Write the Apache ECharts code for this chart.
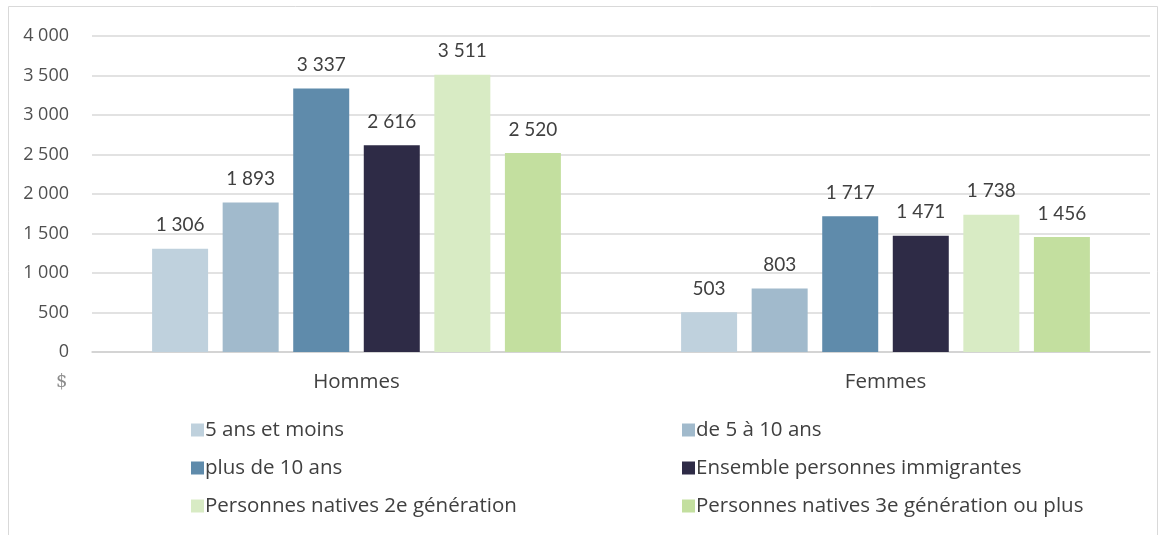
<!DOCTYPE html>
<html>
<head>
<meta charset="utf-8">
<script src="https://cdn.jsdelivr.net/npm/echarts@6/dist/echarts.min.js"></script>
<style>
  html, body { margin: 0; padding: 0; background: #fff; }
  #chart { width: 1159px; height: 535px; }
</style>
</head>
<body>
<div id="chart"></div>
<script>
// données
const categories = ['Hommes', 'Femmes'];
const seriesNames = [
  '5 ans et moins',
  'de 5 à 10 ans',
  'plus de 10 ans',
  'Ensemble personnes immigrantes',
  'Personnes natives 2e génération',
  'Personnes natives 3e génération ou plus'
];
const ans5Moins = [1306, 503];
const de5a10 = [1893, 803];
const plus10 = [3337, 1717];
const ensembleImmigrants = [2616, 1471];
const natives2e = [3511, 1738];
const natives3e = [2520, 1456];
const seriesValues = [ans5Moins, de5a10, plus10, ensembleImmigrants, natives2e, natives3e];
const colors = ['#BFD1DD', '#A1BACC', '#5F8BAB', '#2E2B46', '#D8EBC4', '#C3DF9F'];

const fmt = v => String(v).replace(/\B(?=(\d{3})+(?!\d))/g, ' ');
const font = 'Lato, "Open Sans", sans-serif';
const wide = '"Open Sans", Lato, sans-serif';

const legendText = { color: '#404040', fontSize: 20.5, lineHeight: 24, fontFamily: wide, padding: [0, 0, 0, -4] };

const chart = echarts.init(document.getElementById('chart'));
chart.setOption({
  animation: false,
  color: colors,
  textStyle: { fontFamily: font },
  grid: { left: 92, right: 9, top: 36, bottom: 183 },
  xAxis: {
    type: 'category',
    data: categories,
    axisTick: { show: false },
    axisLine: { lineStyle: { color: '#d0d0d0', width: 1.5 } },
    axisLabel: { color: '#404040', fontSize: 20.5, margin: 20, fontFamily: wide }
  },
  yAxis: {
    type: 'value',
    min: 0,
    max: 4000,
    interval: 500,
    axisLine: { show: false },
    axisTick: { show: false },
    splitLine: { lineStyle: { color: '#d9d9d9', width: 1.5 } },
    axisLabel: { color: '#505050', fontSize: 18, margin: 23, formatter: fmt, fontFamily: wide }
  },
  legend: [
    {
      orient: 'vertical',
      left: 186, top: 413,
      data: [seriesNames[0], seriesNames[2], seriesNames[4]],
      itemWidth: 13, itemHeight: 13, itemGap: 14, icon: 'rect',
      textStyle: legendText
    },
    {
      orient: 'vertical',
      left: 677, top: 413,
      data: [seriesNames[1], seriesNames[3], seriesNames[5]],
      itemWidth: 13, itemHeight: 13, itemGap: 14, icon: 'rect',
      textStyle: legendText
    }
  ],
  graphic: [
    {
      type: 'rect', silent: true,
      shape: { x: 8.5, y: 6.5, width: 1149, height: 540 },
      style: { fill: 'none', stroke: '#d9d9d9', lineWidth: 1 }
    },
    {
      type: 'text', left: 56, top: 373,
      style: { text: '$', fill: '#8c8c8c', fontSize: 18, fontFamily: '"DejaVu Serif", "Liberation Serif", serif' }
    }
  ],
  series: seriesNames.map((name, i) => ({
    name: name,
    type: 'bar',
    data: seriesValues[i],
    barWidth: 56,
    barGap: '26%',
    label: {
      show: true,
      position: 'top',
      distance: 14,
      color: '#404040',
      fontSize: 19,
      fontFamily: font,
      formatter: p => fmt(p.value)
    }
  }))
});
</script>
</body>
</html>
